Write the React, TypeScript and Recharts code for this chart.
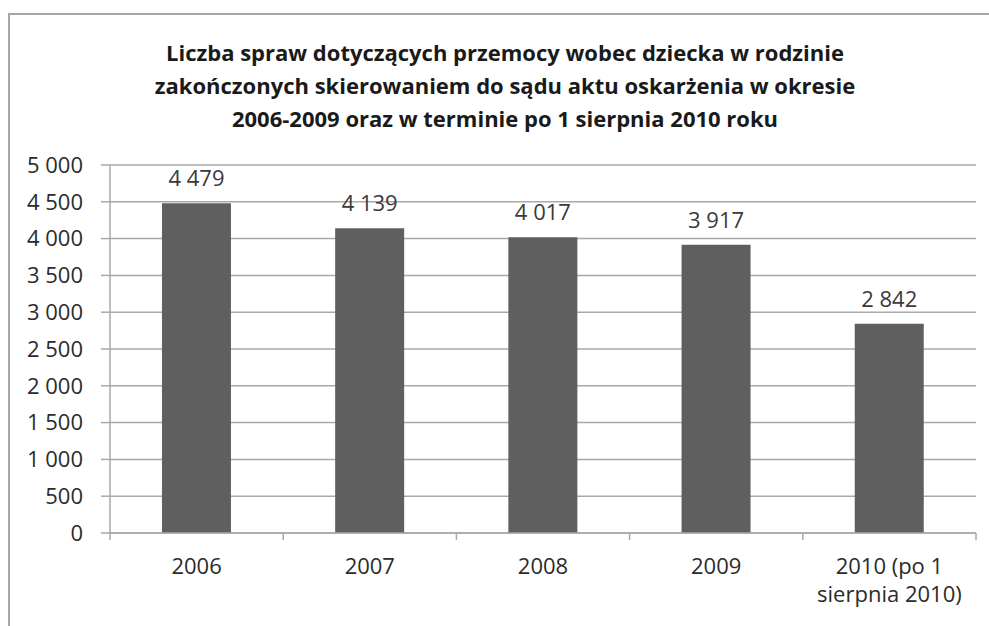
import React from 'react';
import { BarChart, Bar, XAxis, YAxis, CartesianGrid, LabelList } from 'recharts';

const categories = ['2006', '2007', '2008', '2009', '2010 (po 1\nsierpnia 2010)'];
const caseCounts = [4479, 4139, 4017, 3917, 2842];
const yTicks = [0, 500, 1000, 1500, 2000, 2500, 3000, 3500, 4000, 4500, 5000];
const titleLines = [
  'Liczba spraw dotyczących przemocy wobec dziecka w rodzinie',
  'zakończonych skierowaniem do sądu aktu oskarżenia w okresie',
  '2006-2009 oraz w terminie po 1 sierpnia 2010 roku',
];

const data = categories.map((name, i) => ({ name, value: caseCounts[i] }));

const FONT = '"Open Sans", Lato, sans-serif';
const GRID = '#a9a9a9';
const PLOT_LEFT = 110;
const PLOT_RIGHT = 976;
const STEP = (PLOT_RIGHT - PLOT_LEFT) / categories.length;

// Polish-style thousands separator: 4 479
const fmt = (v: number) =>
  v >= 1000 ? `${Math.floor(v / 1000)} ${String(v % 1000).padStart(3, '0')}` : String(v);

// category label + the boundary tick marks Excel draws between categories
function CategoryTick(props: any) {
  const { x, y, payload, index } = props;
  const lines = String(payload.value).split('\n');
  return (
    <g>
      <line x1={x - STEP / 2} x2={x - STEP / 2} y1={y} y2={y + 7} stroke={GRID} strokeWidth={1.5} />
      {index === categories.length - 1 && (
        <line x1={x + STEP / 2} x2={x + STEP / 2} y1={y} y2={y + 7} stroke={GRID} strokeWidth={1.5} />
      )}
      <text x={x} y={y + 34} textAnchor="middle" fill="#2b2b2b" fontSize={22} fontFamily={FONT}>
        {lines.map((l, i) => (
          <tspan key={i} x={x} dy={i === 0 ? 7 : 28}>
            {l}
          </tspan>
        ))}
      </text>
    </g>
  );
}

export default function App() {
  return (
    <div style={{ position: 'fixed', left: 0, top: 0, width: 989, height: 626, background: '#fff' }}>
      {/* chart frame: only top and left edges show in the crop */}
      <div
        style={{
          position: 'absolute',
          left: 8,
          top: 13,
          width: 990,
          height: 640,
          borderTop: '2px solid #a6a6a6',
          borderLeft: '2px solid #a6a6a6',
        }}
      />
      <div
        style={{
          position: 'absolute',
          left: 105,
          top: 36,
          width: 800,
          textAlign: 'center',
          fontFamily: FONT,
          fontWeight: 700,
          fontSize: 22,
          lineHeight: '33px',
          color: '#1a1a1a',
        }}
      >
        {titleLines.map((t) => (
          <div key={t}>{t}</div>
        ))}
      </div>
      <div style={{ position: 'absolute', left: 0, top: 0 }}>
        <BarChart
          width={989}
          height={626}
          data={data}
          margin={{ top: 165, right: 989 - PLOT_RIGHT, bottom: 0, left: 0 }}
          barCategoryGap="30%"
        >
          <CartesianGrid vertical={false} stroke={GRID} strokeWidth={1.5} />
          <XAxis
            dataKey="name"
            interval={0}
            height={93}
            axisLine={{ stroke: GRID, strokeWidth: 1.5 }}
            tickLine={false}
            tickSize={0}
            tickMargin={0}
            tick={<CategoryTick />}
          />
          <YAxis
            width={PLOT_LEFT}
            domain={[0, 5000]}
            ticks={yTicks}
            interval={0}
            tickFormatter={fmt}
            axisLine={{ stroke: GRID, strokeWidth: 1.5 }}
            tickLine={{ stroke: GRID, strokeWidth: 1.5 }}
            tickSize={9}
            tickMargin={18}
            tick={{ fill: '#2b2b2b', fontSize: 22, fontFamily: FONT }}
          />
          <Bar dataKey="value" fill="#5f5f5f" isAnimationActive={false}>
            <LabelList
              dataKey="value"
              position="top"
              offset={17}
              formatter={(v: any) => fmt(Number(v))}
              fill="#3a3a3a"
              fontSize={22}
              fontFamily={FONT}
            />
          </Bar>
        </BarChart>
      </div>
    </div>
  );
}
